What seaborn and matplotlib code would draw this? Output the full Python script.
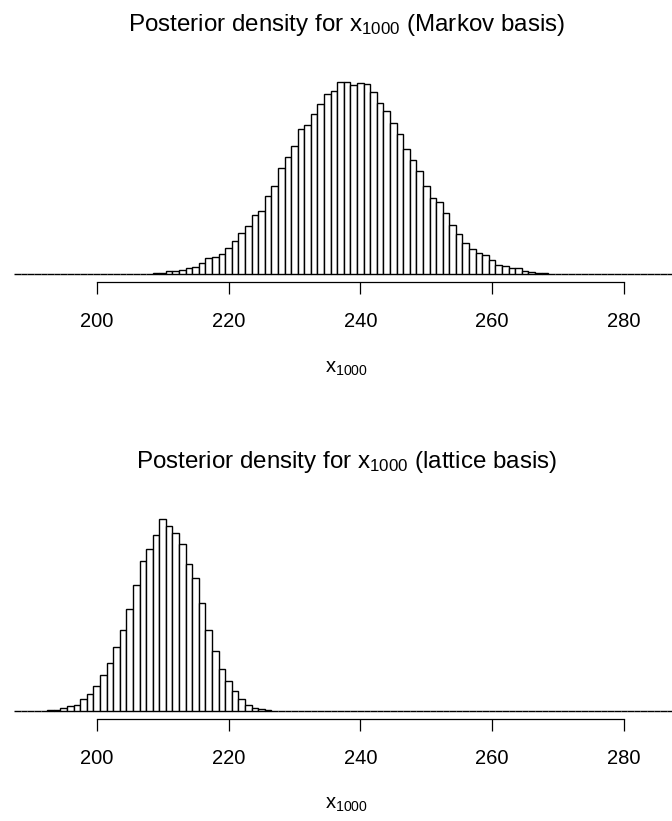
import numpy as np
import pandas as pd
import seaborn as sns
import matplotlib
matplotlib.use("Agg")
import matplotlib.pyplot as plt

# bar heights (arbitrary units, normalised below)
markov_x = list(range(209, 269))
markov_h = [2, 4, 8, 9, 13, 19, 22, 34, 48, 51,
            61, 77, 99, 122, 144, 176, 190, 234, 263, 317,
            351, 383, 433, 447, 480, 510, 539, 547, 575, 575,
            565, 572, 570, 546, 512, 488, 453, 418, 375, 340,
            307, 265, 228, 215, 183, 146, 119, 94, 75, 63,
            58, 43, 28, 24, 17, 17, 8, 6, 3, 2]

lattice_x = list(range(192, 228))
lattice_h = [1, 2, 4, 8, 14, 19, 36, 52, 76, 109,
             144, 192, 244, 304, 376, 450, 485, 528, 575, 553,
             534, 499, 441, 399, 324, 242, 180, 126, 91, 59,
             36, 19, 10, 5, 2, 1]

support = list(range(188, 291))   # histogram breaks cover this range
ticks = [200, 220, 240, 260, 280]
titles = ["Posterior density for x$_{1000}$ (Markov basis)",
          "Posterior density for x$_{1000}$ (lattice basis)"]

sns.set_style("white")
plt.rcParams['font.family'] = ['Liberation Sans', 'DejaVu Sans']
plt.rcParams['mathtext.default'] = 'regular'

W, H = 672, 821
fig = plt.figure(figsize=(W/100, H/100), dpi=100)

panels = [(markov_x, markov_h, 274, 25), (lattice_x, lattice_h, 711, 462)]
for (xs, hs, base, ty), title in zip(panels, titles):
    dens = pd.Series(hs, index=xs, dtype=float)
    dens = dens / dens.sum()
    dens = dens.reindex(support, fill_value=0.0)
    df = pd.DataFrame({'x': dens.index, 'density': dens.values})

    ax = fig.add_axes([0, 1 - base/H, 1, 192/H])
    sns.histplot(data=df, x='x', weights='density', discrete=True,
                 color='white', edgecolor='black', linewidth=1.0, alpha=1,
                 ax=ax)
    for p in ax.patches:
        p.set_clip_on(False)
    ax.set_xlim(185.33, 287.29)
    ax.set_ylim(0, df['density'].max())
    for s in ['top', 'left', 'right']:
        ax.spines[s].set_visible(False)
    ax.spines['bottom'].set_position(('outward', 5.8))
    ax.spines['bottom'].set_bounds(200, 280)
    ax.spines['bottom'].set_linewidth(0.9)
    ax.spines['bottom'].set_color('black')
    ax.set_xticks(ticks)
    ax.set_yticks([])
    ax.tick_params(axis='x', direction='out', length=8.6, width=0.9,
                   pad=13, labelsize=14.5, colors='black', bottom=True)
    ax.set_xlabel('')
    ax.set_ylabel('')

    fig.text(347/W, 1 - ty/H, title, ha='center', va='center',
             fontsize=17.4, color='black')
    fig.text(347/W, 1 - (base + 94)/H, 'x$_{1000}$', ha='center', va='center',
             fontsize=14.5, color='black')

fig.savefig('out.png', dpi=100)
